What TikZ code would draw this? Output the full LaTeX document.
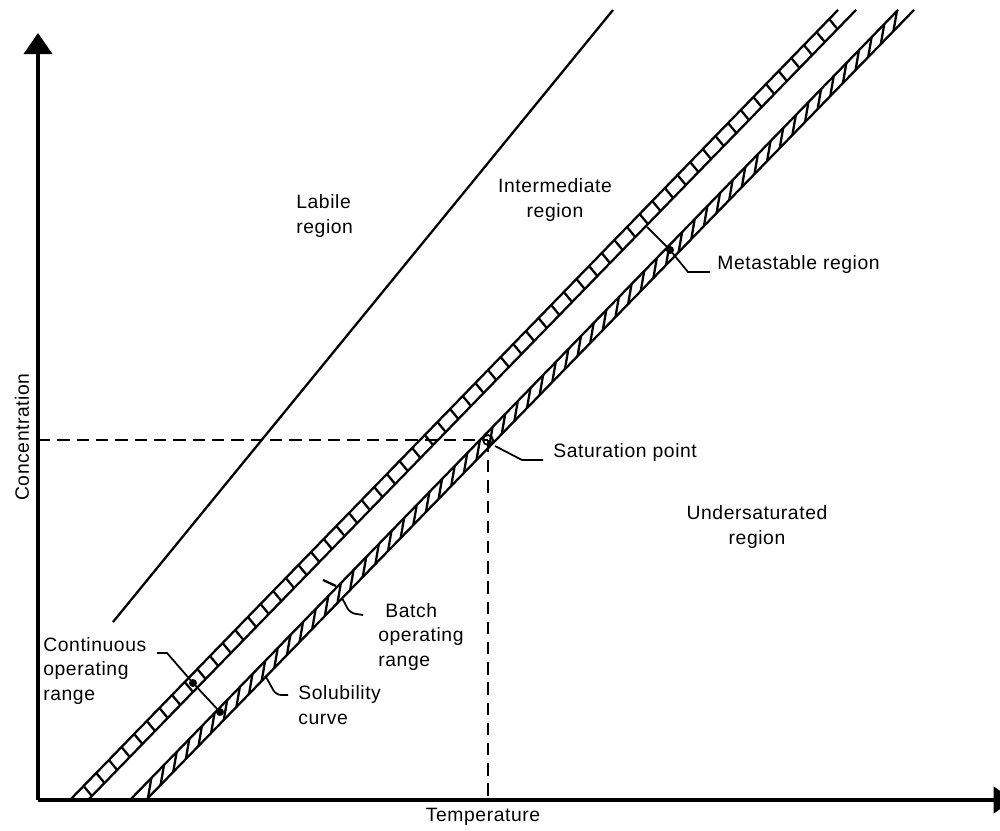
\documentclass[tikz,border=0pt]{standalone}
\usepackage{fontspec}
\setmainfont{Liberation Sans}[LetterSpace=3]
\usetikzlibrary{calc,arrows.meta}

\begin{document}
\begin{tikzpicture}[x=0.02cm, y=0.02cm,
        axis/.style={line width=2pt},
        edge/.style={line width=1.3pt},
        hatch/.style={line width=1.3pt},
        lead/.style={line width=1pt},
        lbl/.style={font=\fontsize{11}{14}\selectfont, inner sep=0pt, align=left}]
        \useasboundingbox (0,0) rectangle (1000,831);

        % axes
        \coordinate (O) at (38,31);
        \coordinate (Ytip) at (38,798);
        \coordinate (Xtip) at (1013,31);
        \coordinate (S) at (488,391); % saturation point

        \draw[axis,-{Triangle[width=16pt,length=12pt]}] (O) -- (Ytip);
        \draw[axis,-{Triangle[width=15pt,length=11pt]}] (O) -- (Xtip);

        % labile boundary
        \draw[edge] (113,209) -- (613,821);

        % upper band
        \draw[edge] (70,31) -- (838,821);
        \draw[edge] (88,31) -- (856,821);
        \foreach \y in {35,48,...,805}
            \draw[hatch] ({88+(\y-31)*0.972},\y) -- ({70+(\y-21)*0.972},{\y+10});

        % lower band (solubility curve)
        \draw[edge] (130,31) -- (898,821);
        \draw[edge] (146,31) -- (914,821);
        \foreach \y in {33,46,...,800}
            \draw[hatch] ({146+(\y-31)*0.972},\y) -- ({130+(\y-11)*0.972},{\y+20});

        % dashed lines to the saturation point
        \draw[line width=0.9pt, dash pattern=on 7pt off 4pt] (38,391) -- (S);
        \draw[line width=1.6pt, dash pattern=on 7pt off 4.5pt] (S) -- (488,31);
        \draw[lead] (S) circle (5);

        % labels
        \node[lbl, anchor=west] (labile) at (296,615) {Labile\\region};
        \node[lbl, align=center] (inter) at (555,631) {Intermediate\\region};
        \node[lbl, anchor=west] (meta) at (717,566) {Metastable region};
        \node[lbl, anchor=west] (sat) at (553,378) {Saturation point};
        \node[lbl, align=center] (under) at (757,304) {Undersaturated\\region};
        \node[lbl, anchor=west] (cont) at (43,160) {Continuous\\operating\\range};
        \node[lbl, anchor=west] (batch) at (378,194) {\hspace{4pt}Batch\\operating\\range};
        \node[lbl, anchor=west] (sol) at (298,126) {Solubility\\curve};
        \node[lbl] (temp) at (483,14) {Temperature};
        \node[lbl, rotate=90] (conc) at (22,394) {Concentration};

        % leaders
        \coordinate (m1) at (710,559);
        \coordinate (m2) at (688,559);
        \coordinate (m3) at (670,581);
        \coordinate (m4) at (647,604);
        \draw[lead] (m1) -- (m2) -- (m3) -- (m4);
        \fill (m3) circle (4);

        \coordinate (s1) at (543,371);
        \coordinate (s2) at (522,371);
        \coordinate (s3) at (495,385);
        \draw[lead] (s1) -- (s2) -- (s3);

        \coordinate (c1) at (157,178);
        \coordinate (c2) at (167,178);
        \coordinate (c3) at (193,148);
        \coordinate (c4) at (220,119);
        \draw[lead] (c1) -- (c2) -- (c3) -- (c4);
        \fill (c3) circle (4); \fill (c4) circle (4);

        \coordinate (b1) at (363,216);
        \coordinate (b2) at (350,218);
        \coordinate (b3) at (342,233);
        \draw[lead, rounded corners=3pt] (b1) -- (b2) -- (b3);
        \coordinate (b4) at (336,245);
        \coordinate (b5) at (323,251);
        \draw[hatch] (b4) -- (b5);

        \coordinate (l1) at (288,136);
        \coordinate (l2) at (276,136);
        \coordinate (l3) at (266,154);
        \draw[lead, rounded corners=3pt] (l1) -- (l2) -- (l3);
    \end{tikzpicture}
\end{document}
